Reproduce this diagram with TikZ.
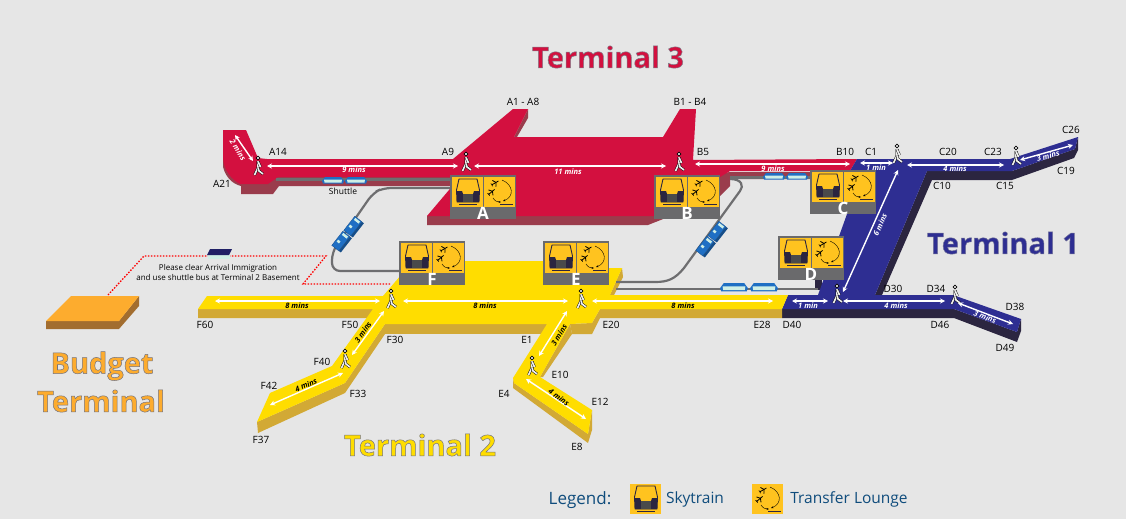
\documentclass[tikz,border=0pt]{standalone}
\usepackage{xcolor}
\usepackage{fontspec}
\setmainfont{Open Sans}
\usetikzlibrary{arrows.meta, positioning, calc}
\definecolor{mapback}{HTML}{E6E6E6}
\definecolor{termred}{HTML}{D3103F}
\definecolor{termredside}{HTML}{9A3C4C}
\definecolor{termblue}{HTML}{2E2E92}
\definecolor{termblueside}{HTML}{2B2540}
\definecolor{termyellow}{HTML}{FFDD00}
\definecolor{termyellowside}{HTML}{D2A935}
\definecolor{budgetorange}{HTML}{FDAC2E}
\definecolor{budgetside}{HTML}{A26D2F}
\definecolor{panelgrey}{HTML}{6A6A6C}
\definecolor{iconyellow}{HTML}{FFC31F}
\definecolor{trackgrey}{HTML}{6E6E70}
\definecolor{shuttleblue}{HTML}{1F6FC4}
\definecolor{shuttlepale}{HTML}{CFEFE6}
\definecolor{legendnavy}{HTML}{0F4C7C}
\newcommand{\outlined}[2]{\special{pdf:code #1 RG 0.5 w 2 Tr}#2\special{pdf:code 0 Tr}}
\tikzset{
  pics/trainicon/.style={code={
    \fill[iconyellow] (0,0) rectangle (31,30);
    \draw[line width=.9pt, draw=termblueside, fill=iconyellow, line join=round] (7,2) -- (25,2) -- (27.5,13) -- (27,25) -- (5,25) -- (4.5,13) -- cycle;
    \fill[termblueside] (5,14) -- (10,14) -- (11,17) -- (21,17) -- (22,14) -- (27,14) -- (27,25) -- (5,25) -- cycle;
    \fill[panelgrey!70!black] (11,17) rectangle (21,25);
    \draw[line width=1.1pt, termblueside] (7,27.5) -- (25,27.5);
  }},
  pics/plane/.style={code={
    \draw[line width=.8pt, black] (-4,0) -- (4,0);
    \draw[line width=.8pt, black] (-1,-3.5) -- (1.2,0) -- (-1,3.5);
    \draw[line width=.6pt, black] (-4,-1.6) -- (-3.2,0) -- (-4,1.6);
  }},
  pics/loungeicon/.style={code={
    \fill[iconyellow] (0,0) rectangle (31,30);
    \pic[rotate=30] at (11,6) {plane};
    \pic[rotate=40] at (7.5,15) {plane};
    \draw[-{Stealth[length=2.5pt]}, line width=.4pt, black] (18,3) .. controls (30,8) and (30,20) .. (19,24);
    \draw[-{Stealth[length=2.5pt]}, line width=.4pt, black] (9,21) .. controls (11,24) and (13,25) .. (17,25);
    \draw[line width=1.1pt, termblueside] (16,27.5) -- (29,27.5);
  }},
  pics/panel/.style={code={
    \fill[panelgrey] (0,0) rectangle (66,44);
    \pic at (2,2) {trainicon};
    \pic at (34,2) {loungeicon};
    \node[font=\fontsize{17}{17}\selectfont\bfseries, text=white, inner sep=0pt] (-letter) at (33,38.5) {#1};
  }},
  pics/walker/.style={code={
    \draw[black, line width=.7pt, fill=white] (0,-8) circle (1.8);
    \draw[walkerbody] (0,-5) -- (0,1.5) -- (-3.5,9);
    \draw[walkerbody] (0,1.5) -- (1,5) -- (5,8);
    \draw[walkerbody] (0,-4.5) -- (2.5,1);
  }},
  pics/bus/.style={code={
    \fill[shuttleblue] (3,0) -- (19,0) -- (22,4) -- (21,6.5) -- (1,6.5) -- (0,4) -- cycle;
    \fill[shuttlepale] (2,2.5) -- (20,2.5) -- (19.5,5.5) -- (2.5,5.5) -- cycle;
  }},
  pics/wagon/.style={code={
    \fill[shuttleblue, draw=shuttleblue!70!black, line width=.3pt] (-9,-6) rectangle (9,3);
    \fill[shuttleblue!70!black] (-9,3) rectangle (9,5.5);
    \fill[shuttlepale] (5.5,-4.5) rectangle (8,1.5);
    \fill[shuttlepale] (-3,-4.5) rectangle (-.5,-1.5);
  }},
  walkerbody/.style={draw=black, line width=.45pt, double=mapback!60!white, double distance=1.7pt, line join=round},
  walk/.style={{Stealth[length=5pt,width=5pt]}-{Stealth[length=5pt,width=5pt]}, white, line width=1.4pt},
  gatelabel/.style={font=\fontsize{10}{10}\selectfont, text=black, inner sep=0pt},
  minswhite/.style={font=\fontsize{7.5}{8}\selectfont\bfseries\itshape, text=white, inner sep=0pt},
  minsblack/.style={font=\fontsize{7.5}{8}\selectfont\bfseries\itshape, text=black, inner sep=0pt},
  track/.style={trackgrey, line width=2.2pt, rounded corners=8pt},
  titlefont/.style={font=\fontsize{29}{30}\selectfont\bfseries, inner sep=0pt},
}
\begin{document}
\begin{tikzpicture}[x=1pt, y=-1pt]
\useasboundingbox (0,0) rectangle (1126,519);
\fill[mapback] (0,0) rectangle (1126,519);

% budget terminal and bus route
\draw[red, line width=1.3pt, dash pattern=on 1.5pt off 1.5pt] (108,295) -- (144,256) -- (326,256) -- (303,284) -- (390,284);
\fill[budgetside] (46,321) -- (46,329) -- (119,329) -- (139,306) -- (139,296) -- (119,321) -- cycle;
\fill[budgetorange] (71,296) -- (139,296) -- (119,321) -- (46,321) -- cycle;
\fill[shuttlepale] (208,254) rectangle (230,259);
\fill[termblue!70!black] (210,249) -- (232,249) -- (229,255) -- (207,255) -- cycle;

% terminal 3
\fill[termredside] (223,157) -- (223,167) .. controls (226,178) and (233,184) .. (241,186) -- (241,194) -- (273,194) -- (279,186) -- (460,186) -- (460,177) -- (278,177) -- cycle;
\fill[termredside] (427,216) -- (427,225) -- (648,225) -- (719,197) -- (730,186) -- (730,179) -- (810,179) -- (810,172) -- (730,172) -- cycle;
\fill[termredside] (528,109) -- (528,118) -- (517,137) -- (514,137) -- cycle;
\fill[termred] (223,130) -- (246,130) -- (258,158) -- (267,159) -- (453,159) -- (513,109) -- (528,109) -- (514,137) -- (663,137) -- (680,109) -- (696,109) -- (693,160) -- (857,159) -- (850,171) -- (730,171) -- (655,216) -- (427,216) -- (460,177) -- (278,177) -- (268,184) -- (240,184) .. controls (232,180) and (223,170) .. (223,157) -- cycle;
\draw[trackgrey, line width=3pt] (276,179.5) -- (450,179.5);
\draw[trackgrey, line width=2.5pt] (730,177.5) -- (810,177.5);

% terminal 1
\fill[termblueside] (1075,149) -- (1078,137) -- (1078,150) -- (1074,158) -- (1012,180) -- (932,180) -- (882,295) -- (875,295) -- (927,171) -- (1012,171) -- cycle;
\fill[termblueside] (782,309) -- (782,318) -- (954,318) -- (1017,342) -- (1021,331) -- (1021,319) -- (1017,332) -- (954,309) -- cycle;
\fill[termblueside] (815,278) rectangle (822,290);
\fill[termblue] (857,159) -- (1010,159) -- (1078,137) -- (1075,149) -- (1012,171) -- (927,171) -- (875,295) -- (953,295) -- (1021,319) -- (1017,332) -- (954,309) -- (782,309) -- (788,295) -- (818,295) -- (847,214) -- (850,171) -- cycle;

% terminal 2
\fill[termyellowside] (198,309) -- (198,318) -- (373,318) -- (379,309) -- cycle;
\fill[termyellowside] (385,324) -- (385,334) -- (345,393) -- (258,433) -- (257,422) -- (345,383) -- cycle;
\fill[termyellowside] (385,324) -- (385,334) -- (547,334) -- (547,324) -- cycle;
\fill[termyellowside] (570,324) -- (572,334) -- (592,334) -- (600,318) -- (782,318) -- (782,309) -- (600,309) -- (592,323) -- cycle;
\fill[termyellowside] (570,324) -- (572,334) -- (543,377) -- (540,377) -- cycle;
\fill[termyellowside] (513,378) -- (513,388) -- (588,443) -- (592,430) -- (592,410) -- (588,434) -- (514,383) -- cycle;
\fill[termyellowside] (622,268) -- (623,277) -- (614,295) -- (610,295) -- cycle;
\fill[termyellow] (207,296) -- (383,296) -- (413,261) -- (545,261) -- (545,268) -- (622,268) -- (610,295) -- (788,295) -- (782,309) -- (600,309) -- (592,323) -- (570,324) -- (540,377) -- (592,410) -- (588,434) -- (514,383) -- (513,378) -- (547,324) -- (385,324) -- (345,383) -- (257,422) -- (270,393) -- (332,366) -- (373,309) -- (198,309) -- cycle;

% shuttle tracks
\draw[track] (400,271) -- (332,271) -- (332,252) -- (373,193) -- (383,188) -- (450,188);
\draw[trackgrey, line width=2.2pt, line join=round] (616,282) -- (655,282) .. controls (668,282) and (675,279) .. (684,268) -- (740,191) .. controls (744,186) and (742,179) .. (730,179);
\draw[trackgrey, line width=2.2pt] (616,289) -- (818,289);

% shuttles
\pic at (322,177) {bus};
\pic at (345,177) {bus};
\pic at (763,173) {bus};
\pic at (786,173) {bus};
\pic[xscale=1.27, yscale=1.3] at (720,283) {bus};
\pic[xscale=1.27, yscale=1.3] at (750,283) {bus};
\pic[rotate=52] at (342,242) {wagon};
\pic[rotate=52] at (354,227) {wagon};
\pic[rotate=52] at (706,247) {wagon};
\pic[rotate=52] at (718,232) {wagon};

% gate panels
\pic (pa) at (450,175) {panel=A};
\pic (pb) at (654,175) {panel=B};
\pic (pc) at (810,170) {panel=C};
\pic (pd) at (778,236) {panel=D};
\pic (pe) at (543,241) {panel=E};
\pic (pf) at (399,241) {panel=F};

% walkers
\pic at (258,166) {walker};
\pic at (466,162) {walker};
\pic at (679,162) {walker};
\pic at (897,154) {walker};
\pic at (1016,156) {walker};
\pic at (837,294) {walker};
\pic at (955,295) {walker};
\pic at (581,299) {walker};
\pic at (532,366) {walker};
\pic at (391,299) {walker};
\pic at (345,359) {walker};

% walkways
\draw[walk] (235,135) -- (253,161);
\draw[walk] (267,166) -- (458,166);
\draw[walk] (474,166) -- (666,166);
\draw[walk] (695,164) -- (850,164);
\draw[walk] (860,163) -- (893,163);
\draw[walk] (907,165) -- (1004,165);
\draw[walk] (1020,160) -- (1073,145);
\draw[walk] (898,170) -- (843,292);
\draw[walk] (792,301) -- (828,301);
\draw[walk] (843,301) -- (945,301);
\draw[walk] (958,303) -- (1013,324);
\draw[walk] (592,301) -- (773,301);
\draw[walk] (403,301) -- (568,301);
\draw[walk] (215,301) -- (380,301);
\draw[walk] (384,311) -- (352,355);
\draw[walk] (343,373) -- (270,405);
\draw[walk] (567,311) -- (539,356);
\draw[walk] (526,379) -- (586,419);

% walking times
\node[minswhite, rotate=-58] (m1) at (238,150) {2 mins};
\node[minswhite] (m2) at (354,170) {9 mins};
\node[minswhite] (m3) at (568,172) {11 mins};
\node[minswhite] (m4) at (773,169) {9 mins};
\node[minswhite] (m5) at (876,168) {1 min};
\node[minswhite] (m6) at (955,169) {4 mins};
\node[minswhite, rotate=16] (m7) at (1048,156) {3 mins};
\node[minswhite, rotate=66] (m8) at (880,225) {6 mins};
\node[minswhite] (m9) at (808,306) {1 min};
\node[minswhite] (m10) at (896,306) {4 mins};
\node[minswhite, rotate=-21] (m11) at (985,317) {3 mins};
\node[minsblack] (m12) at (683,306) {8 mins};
\node[minsblack] (m13) at (485,306) {8 mins};
\node[minsblack] (m14) at (297,306) {8 mins};
\node[minsblack, rotate=55] (m15) at (363,332) {3 mins};
\node[minsblack, rotate=24] (m16) at (306,385) {4 mins};
\node[minsblack, rotate=58] (m17) at (559,335) {3 mins};
\node[minsblack, rotate=-36] (m18) at (559,397) {4 mins};

% gates
\node[gatelabel] (a14) at (278,152) {A14};
\node[gatelabel] (a9) at (448,152) {A9};
\node[gatelabel] (a21) at (222,184) {A21};
\node[gatelabel] (a1) at (523,102) {A1 - A8};
\node[gatelabel] (b1) at (690,102) {B1 - B4};
\node[gatelabel] (b5) at (703,152) {B5};
\node[gatelabel] (b10) at (845,152) {B10};
\node[gatelabel] (c1) at (871,152) {C1};
\node[gatelabel] (c20) at (948,152) {C20};
\node[gatelabel] (c23) at (993,152) {C23};
\node[gatelabel] (c26) at (1071,130) {C26};
\node[gatelabel] (c10) at (942,186) {C10};
\node[gatelabel] (c15) at (1005,186) {C15};
\node[gatelabel] (c19) at (1066,171) {C19};
\node[gatelabel] (d30) at (893,289) {D30};
\node[gatelabel] (d34) at (936,289) {D34};
\node[gatelabel] (d38) at (1015,307) {D38};
\node[gatelabel] (d46) at (940,325) {D46};
\node[gatelabel] (d49) at (1005,348) {D49};
\node[gatelabel] (d40) at (792,325) {D40};
\node[gatelabel] (e28) at (762,325) {E28};
\node[gatelabel] (e20) at (611,325) {E20};
\node[gatelabel] (e1) at (527,340) {E1};
\node[gatelabel] (e10) at (560,375) {E10};
\node[gatelabel] (e12) at (600,402) {E12};
\node[gatelabel] (e8) at (577,447) {E8};
\node[gatelabel] (e4) at (504,394) {E4};
\node[gatelabel] (f30) at (395,340) {F30};
\node[gatelabel] (f50) at (350,325) {F50};
\node[gatelabel] (f60) at (205,325) {F60};
\node[gatelabel] (f40) at (322,362) {F40};
\node[gatelabel] (f42) at (269,386) {F42};
\node[gatelabel] (f33) at (358,394) {F33};
\node[gatelabel] (f37) at (261,440) {F37};
\node[gatelabel, font=\fontsize{8.5}{9}\selectfont] (shuttle) at (343,191) {Shuttle};
\node[gatelabel, align=center, font=\fontsize{8}{10}\selectfont] (busnote) at (218,272) {Please clear Arrival Immigration\\and use shuttle bus at Terminal 2 Basement};

% terminal names
\node[titlefont, text=termred] (t3) at (608,57) {\outlined{0.5 0.5 0.55}{Terminal 3}};
\node[titlefont, text=termblue] (t1) at (1003,243) {\outlined{0.45 0.45 0.6}{Terminal 1}};
\node[titlefont, text=termyellow] (t2) at (420,445) {\outlined{0.45 0.45 0.5}{Terminal 2}};
\node[titlefont, text=budgetorange] (budget) at (102,366) {\outlined{0.45 0.45 0.5}{Budget}};
\node[titlefont, text=budgetorange] (termname) at (101,401) {\outlined{0.45 0.45 0.5}{Terminal}};

% legend
\node[font=\fontsize{17}{18}\selectfont, text=legendnavy, inner sep=0pt] (legend) at (580,500) {Legend:};
\pic at (630,484) {trainicon};
\node[font=\fontsize{15.5}{16}\selectfont, text=legendnavy, inner sep=0pt] (ltrain) at (695,499) {Skytrain};
\pic at (752,484) {loungeicon};
\node[font=\fontsize{15.5}{16}\selectfont, text=legendnavy, inner sep=0pt] (llounge) at (849,499) {Transfer Lounge};
\end{tikzpicture}
\end{document}
